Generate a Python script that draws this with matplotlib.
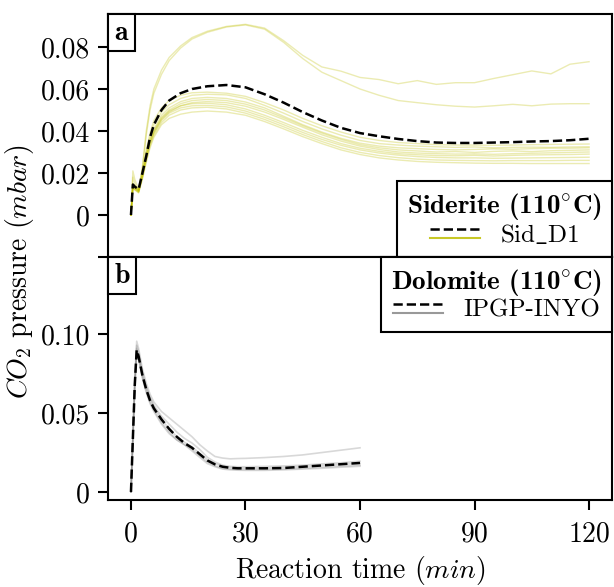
import matplotlib
matplotlib.use("Agg")
import matplotlib.pyplot as plt
from matplotlib.lines import Line2D
from matplotlib.offsetbox import AnchoredText

plt.rcParams["font.family"] = "serif"
plt.rcParams["font.serif"] = ["cmr10"]
plt.rcParams["mathtext.fontset"] = "cm"
plt.rcParams["axes.unicode_minus"] = False
plt.rcParams["axes.linewidth"] = 1.5

# siderite runs (110 C), time in min, pressure in mbar
t_sid = [0, 0.5, 1, 2, 3, 4, 5, 6, 8, 10, 13, 16, 20, 25, 30, 35, 40, 45, 50, 55,
         60, 65, 70, 75, 80, 85, 90, 95, 100, 105, 110, 115, 120]
sid_mean = [0, .0145, .0135, .0122, .020, .028, .037, .043, .050, .0545, .058, .060, .0613,
            .0619, .0608, .0575, .0535, .049, .045, .0415, .039, .0375, .0362, .0352, .0345,
            .0343, .0343, .0345, .0347, .035, .0352, .0356, .0363]
sid_runs = [
    [0, .021, .017, .012, .023, .040, .052, .060, .069, .075, .0805, .0845, .0875, .0898, .0908,
     .0890, .0830, .0760, .0705, .0685, .0655, .0645, .0625, .0640, .0622, .0630, .0630, .0650,
     .0668, .0686, .0672, .0718, .0730],
    [0, .018, .015, .0115, .022, .038, .050, .058, .067, .0735, .0795, .0838, .0870, .0895, .0905,
     .0885, .0822, .0745, .0680, .0640, .0600, .0570, .0545, .0535, .0525, .0518, .0514, .0520,
     .0527, .0520, .0528, .0530, .0530],
    [0, .015, .014, .012, .021, .031, .039, .045, .051, .0545, .057, .0582, .0585, .058, .0565,
     .0535, .050, .046, .0425, .0395, .037, .0355, .0345, .034, .0335, .0333, .0333, .0332, .0333,
     .0335, .0336, .0337, .0338],
    [0, .014, .013, .0115, .020, .030, .037, .043, .049, .0525, .0555, .057, .0575, .0572, .0555,
     .0522, .0485, .0445, .041, .038, .0355, .034, .0333, .0328, .0325, .0322, .0324, .0320, .0322,
     .0323, .0322, .0324, .0325],
    [0, .0145, .0135, .0118, .019, .029, .036, .041, .0475, .051, .054, .0555, .056, .0555, .0538,
     .051, .047, .043, .0395, .0365, .0342, .0328, .032, .0316, .0312, .031, .0312, .0315, .0313,
     .0316, .0318, .0318, .032],
    [0, .014, .013, .0112, .019, .028, .035, .040, .0465, .050, .053, .0545, .055, .0545, .0528,
     .050, .0463, .0425, .039, .036, .0335, .032, .031, .0305, .030, .0302, .0298, .0303, .0305,
     .0302, .0306, .0308, .031],
    [0, .0135, .0125, .011, .018, .027, .034, .039, .0455, .049, .052, .0535, .054, .0535, .0518,
     .049, .0455, .0418, .0382, .0352, .0328, .0312, .030, .0295, .0292, .029, .0291, .0289, .0292,
     .0294, .0296, .0298, .030],
    [0, .014, .013, .0115, .019, .028, .035, .040, .046, .0495, .052, .053, .0532, .0525, .0505,
     .0475, .044, .0403, .037, .034, .0318, .0303, .0292, .0287, .0283, .0282, .0284, .0281, .0284,
     .0286, .0287, .0288, .029],
    [0, .013, .012, .0108, .018, .027, .034, .039, .045, .0485, .051, .052, .0522, .0515, .0495,
     .0465, .043, .0393, .036, .0332, .031, .0295, .0285, .0278, .0274, .0272, .0272, .027, .0271,
     .0272, .0273, .0274, .0275],
    [0, .0135, .0125, .011, .018, .026, .033, .038, .044, .0475, .050, .051, .0513, .0505, .0485,
     .0455, .042, .0383, .035, .032, .0298, .0283, .0273, .0266, .0262, .026, .0259, .0258, .0259,
     .0259, .0259, .026, .026],
    [0, .013, .012, .0105, .017, .025, .032, .037, .043, .046, .048, .049, .0495, .049, .0475,
     .0445, .041, .0373, .034, .031, .0288, .0272, .0262, .0255, .0251, .0249, .0247, .0246, .0246,
     .0245, .0245, .0245, .0245],
]

# dolomite runs (110 C)
t_dol = [0, 0.5, 1, 1.5, 2, 3, 4, 5, 6, 8, 10, 12, 14, 16, 18, 20, 22, 24, 26, 28, 30,
         35, 40, 45, 50, 55, 60]
dol_mean = [0, .034, .068, .090, .086, .074, .065, .058, .053, .046, .040, .035, .031, .028,
            .024, .020, .0175, .016, .0153, .015, .015, .015, .0152, .016, .0168, .0176, .0184]
dol_runs = [
    [0, .036, .072, .0956, .091, .078, .069, .062, .057, .051, .047, .043, .039, .035, .030, .026,
     .0225, .0215, .021, .0212, .0213, .0218, .0225, .0235, .025, .0265, .028],
    [0, .035, .070, .093, .089, .076, .067, .060, .055, .048, .043, .038, .034, .031, .027, .022,
     .019, .017, .0162, .016, .016, .0162, .0165, .017, .0178, .0185, .0195],
    [0, .034, .068, .091, .087, .073, .064, .057, .052, .044, .038, .033, .030, .027, .023, .019,
     .0165, .015, .0145, .0143, .0143, .0143, .0145, .015, .0157, .0164, .017],
    [0, .033, .066, .088, .084, .072, .063, .056, .051, .043, .037, .033, .030, .026, .022, .018,
     .016, .0145, .014, .0138, .0137, .0137, .014, .0145, .015, .0157, .0163],
    [0, .034, .067, .089, .085, .074, .066, .059, .054, .046, .040, .035, .0315, .0285, .0245,
     .0205, .018, .0162, .0155, .0152, .0152, .0152, .0155, .016, .0168, .0175, .0182],
]

xticks = [0, 30, 60, 90, 120]
sid_yticks = [-0.02, 0, 0.02, 0.04, 0.06, 0.08]
sid_ylabels = ["", "0", "0.02", "0.04", "0.06", "0.08"]
dol_yticks = [0, 0.05, 0.10]
dol_ylabels = ["0", "0.05", "0.10"]


class StackedHandler:
    def legend_artist(self, legend, orig_handle, fontsize, handlebox):
        x0, y0 = handlebox.xdescent, handlebox.ydescent
        w, h = handlebox.width, handlebox.height
        out = None
        for ln, frac in zip(orig_handle, (0.72, 0.2)):
            out = Line2D([x0, x0 + w], [y0 + h * frac] * 2, color=ln.get_color(),
                         linestyle=ln.get_linestyle(), linewidth=ln.get_linewidth(),
                         alpha=ln.get_alpha())
            handlebox.add_artist(out)
        return out


fig = plt.figure(figsize=(6.14, 5.87), dpi=100)
ax1 = fig.add_axes([0.176, 0.5622, 0.8207, 0.4139])
ax2 = fig.add_axes([0.176, 0.1482, 0.8207, 0.4140], sharex=ax1)

for run in sid_runs:
    ax1.plot(t_sid, run, color="y", alpha=0.3, lw=1.0)
ax1.plot(t_sid, sid_mean, color="k", ls="--", lw=1.8)

for run in dol_runs:
    ax2.plot(t_dol, run, color="grey", alpha=0.3, lw=1.2)
ax2.plot(t_dol, dol_mean, color="k", ls="--", lw=1.8)

ax1.set_xlim(-6, 126)
ax1.set_ylim(-0.02, 0.0957)
ax2.set_ylim(-0.0051, 0.149)
ax1.set_yticks(sid_yticks)
ax1.set_yticklabels(sid_ylabels)
ax2.set_yticks(dol_yticks)
ax2.set_yticklabels(dol_ylabels)
ax2.set_xticks(xticks)
ax2.set_xticklabels([str(v) for v in xticks])

for ax in (ax1, ax2):
    ax.tick_params(axis="both", labelsize=20, width=1.5, length=7, color="k")
    ax.tick_params(axis="y", pad=6)
ax2.tick_params(axis="x", pad=8)
ax1.tick_params(axis="x", bottom=False, labelbottom=False)

ax2.set_xlabel(r"Reaction time $(min)$", fontsize=20, labelpad=5)
fig.text(0.032, 0.537, r"$CO_2$ pressure $(mbar)$", rotation=90, fontsize=20,
         ha="center", va="center")

for ax, tag in ((ax1, "a"), (ax2, "b")):
    at = AnchoredText(r"$\mathbf{%s}$" % tag, loc="upper left", prop=dict(size=20),
                      frameon=True, pad=0.2, borderpad=0)
    at.patch.set_linewidth(1.5)
    at.patch.set_edgecolor("k")
    ax.add_artist(at)

title_font = {"family": "cmb10", "size": 19.5}
leg_opts = dict(handler_map={tuple: StackedHandler()}, title_fontproperties=title_font,
                borderaxespad=0, borderpad=0.4, labelspacing=0.05, fancybox=False,
                edgecolor="k", framealpha=1, fontsize=18)

h1 = (Line2D([], [], color="k", ls="--", lw=1.8), Line2D([], [], color="y", alpha=0.85, lw=1.5))
leg1 = ax1.legend([h1], [r"$\mathrm{Sid\_D1}$"], title=r"Siderite (110$^{\circ}$C)",
                  loc="lower right", **leg_opts)
leg1.get_frame().set_linewidth(1.5)

h2 = (Line2D([], [], color="k", ls="--", lw=1.8), Line2D([], [], color="grey", alpha=0.8, lw=1.5))
leg2 = ax2.legend([h2], ["IPGP-INYO"], title=r"Dolomite (110$^{\circ}$C)",
                  loc="upper right", **leg_opts)
leg2.get_frame().set_linewidth(1.5)

fig.savefig("out.png", dpi=100)
